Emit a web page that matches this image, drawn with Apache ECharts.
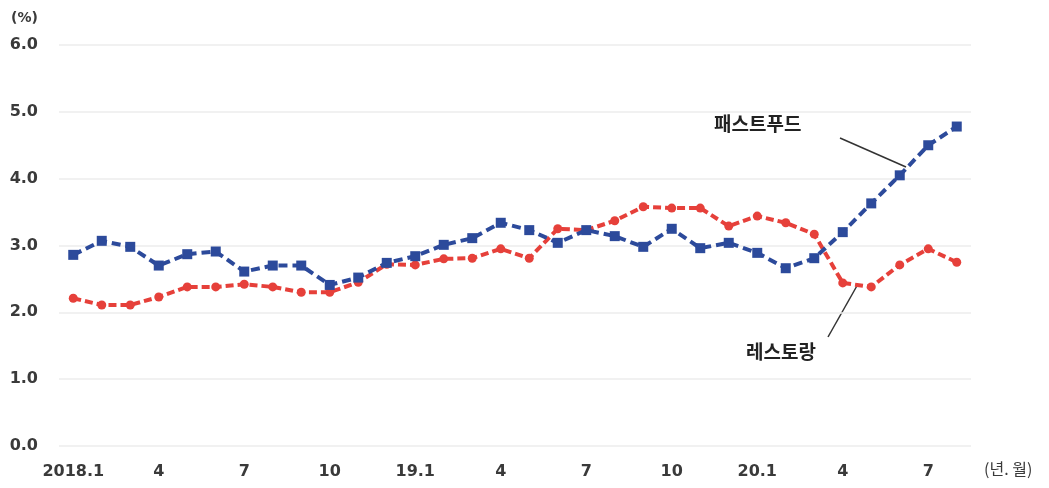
<!DOCTYPE html>
<html>
<head>
<meta charset="utf-8">
<script src="https://cdn.jsdelivr.net/npm/echarts@6/dist/echarts.min.js"></script>
<style>
  html, body { margin: 0; padding: 0; background: #fff; }
  #chart { width: 1049px; height: 488px; }
</style>
</head>
<body>
<div id="chart"></div>
<script>
// 월 (2018.1 ~ 2020.8)
const months = [
  '2018.1', '2', '3', '4', '5', '6', '7', '8', '9', '10', '11', '12',
  '19.1', '2', '3', '4', '5', '6', '7', '8', '9', '10', '11', '12',
  '20.1', '2', '3', '4', '5', '6', '7', '8'
]
// 패스트푸드 (%)
const fastFood = [
  2.86, 3.07, 2.98, 2.70, 2.87, 2.91, 2.61, 2.70, 2.70, 2.41, 2.52, 2.74,
  2.84, 3.01, 3.11, 3.34, 3.23, 3.04, 3.23, 3.14, 2.98, 3.25, 2.96, 3.04,
  2.89, 2.66, 2.81, 3.20, 3.63, 4.05, 4.50, 4.78
]
// 레스토랑 (%)
const restaurant = [
  2.21, 2.11, 2.11, 2.23, 2.38, 2.38, 2.42, 2.38, 2.30, 2.30, 2.45, 2.72,
  2.71, 2.80, 2.81, 2.95, 2.81, 3.25, 3.23, 3.37, 3.58, 3.56, 3.56, 3.29,
  3.44, 3.34, 3.17, 2.44, 2.38, 2.71, 2.95, 2.75
]
const yTicks = { min: 0, max: 6, interval: 1 }

const blue = '#2c4a9b'
const red = '#e6403a'
const textColor = '#3a3a3a'
const font = 'DejaVu Sans, sans-serif'
const krFont = 'Noto Sans CJK KR, sans-serif'

const c = echarts.init(document.getElementById('chart'))
c.setOption({
  animation: false,
  grid: { left: 59, right: 78, top: 45, bottom: 42 },
  xAxis: {
    type: 'category',
    data: months,
    boundaryGap: true,
    axisLine: { show: false },
    axisTick: { show: false },
    axisLabel: {
      interval: 2,
      margin: 18,
      fontSize: 16,
      fontWeight: 'bold',
      fontFamily: font,
      color: textColor
    }
  },
  yAxis: {
    type: 'value',
    min: yTicks.min,
    max: yTicks.max,
    interval: yTicks.interval,
    axisLabel: {
      formatter: v => v.toFixed(1),
      fontSize: 16,
      fontWeight: 'bold',
      fontFamily: font,
      color: textColor,
      margin: 21
    },
    splitLine: { lineStyle: { color: '#ececec', width: 1.5 } }
  },
  series: [
    {
      name: '패스트푸드',
      type: 'line',
      data: fastFood,
      symbol: 'rect',
      symbolSize: 10,
      itemStyle: { color: blue },
      lineStyle: { color: blue, width: 4, type: [9, 5] },
      z: 3
    },
    {
      name: '레스토랑',
      type: 'line',
      data: restaurant,
      symbol: 'circle',
      symbolSize: 9,
      itemStyle: { color: red },
      lineStyle: { color: red, width: 4, type: [8, 4] },
      z: 2
    }
  ],
  graphic: [
    { type: 'text', left: 11, top: 11, style: { text: '(%)', font: 'bold 14px ' + font, fill: textColor } },
    { type: 'text', left: 984, top: 461, style: { text: '(년. 월)', font: '16px ' + krFont, fill: textColor } },
    { type: 'text', left: 714, top: 114, style: { text: '패스트푸드', font: 'bold 19px ' + krFont, fill: '#222' } },
    { type: 'line', shape: { x1: 840, y1: 138, x2: 906, y2: 167 }, style: { stroke: '#333', lineWidth: 1.5 } },
    { type: 'text', left: 746, top: 342, style: { text: '레스토랑', font: 'bold 19px ' + krFont, fill: '#222' } },
    { type: 'line', shape: { x1: 828, y1: 337, x2: 858, y2: 284 }, style: { stroke: '#333', lineWidth: 1.5 } }
  ]
})
</script>
</body>
</html>
